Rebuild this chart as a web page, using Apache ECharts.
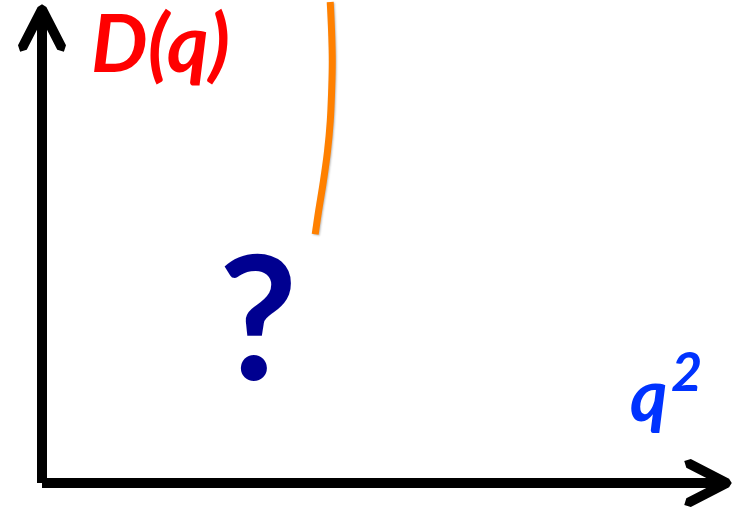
<!DOCTYPE html>
<html>
<head>
    <meta charset="UTF-8">
    <meta name="viewport" content="width=device-width, initial-scale=1.0">
    <title>D(q) vs q²</title>
    <script src="https://cdn.jsdelivr.net/npm/echarts@6.0.0/dist/echarts.min.js"></script>
    <style>
        html, body, #chart {
            width: 100%;
            height: 100%;
            margin: 0;
            padding: 0;
        }
        body {
            overflow: hidden;
            background: #fff;
        }
    </style>
</head>
<body>
    <div id="chart"></div>
    <script>
        // orange curve, axis units 0..100 (x = q², y = D(q))
        const curveX = [42.2, 42.4, 42.5, 42.4, 42.2, 41.8, 41.2, 40.5, 40.0];
        const curveY = [101.7, 95.4, 89.1, 82.7, 76.4, 70.1, 63.8, 57.5, 52.6];

        const yTitle = 'D(q)';
        const xTitle = 'q';
        const xTitleSup = '2';
        const unknownMark = '?';

        // open chevron arrow head (points up, gets rotated along the axis)
        const chevron = 'path://M25 0 L29.45 2.72 L49.45 41.7 L47.3 48.4 L40.55 46.3 L25 16 L9.45 46.3 L2.7 48.4 L0.55 41.7 L20.55 2.72 Z';

        const chart = echarts.init(document.getElementById('chart'));

        const axisLine = function (offsetEnd) {
            return {
                show: true,
                onZero: false,
                symbol: ['none', chevron],
                symbolSize: [48, 48],
                symbolOffset: [0, offsetEnd],
                lineStyle: { color: '#000', width: 10, cap: 'butt' }
            };
        };

        const option = {
            animation: false,
            backgroundColor: '#fff',
            grid: { left: 42, right: 15, top: 10, bottom: 26 },
            xAxis: {
                type: 'value',
                min: 0,
                max: 100,
                axisLine: axisLine(-17),
                axisTick: { show: false },
                axisLabel: { show: false },
                splitLine: { show: false }
            },
            yAxis: {
                type: 'value',
                min: 0,
                max: 100,
                axisLine: axisLine(-18),
                axisTick: { show: false },
                axisLabel: { show: false },
                splitLine: { show: false }
            },
            series: [
                {
                    type: 'line',
                    data: curveX.map((x, i) => [x, curveY[i]]),
                    smooth: 0.4,
                    showSymbol: false,
                    clip: false,
                    lineStyle: {
                        color: '#FF8000',
                        width: 7,
                        cap: 'butt',
                        shadowColor: 'rgba(0,0,0,0.25)',
                        shadowBlur: 2,
                        shadowOffsetX: 1,
                        shadowOffsetY: 1
                    }
                }
            ],
            graphic: [
                {
                    type: 'text',
                    x: 91, y: 6,
                    style: {
                        text: yTitle,
                        font: 'italic bold 80px Lato',
                        fill: '#FF0000',
                        textAlign: 'left',
                        textVerticalAlign: 'top'
                    }
                },
                {
                    type: 'text',
                    x: 258, y: 239,
                    style: {
                        text: unknownMark,
                        font: 'bold 172px Lato',
                        fill: '#000090',
                        textAlign: 'center',
                        textVerticalAlign: 'top'
                    }
                },
                {
                    type: 'text',
                    x: 630, y: 362,
                    style: {
                        text: xTitle,
                        font: 'italic bold 72px Lato',
                        fill: '#0033FF',
                        textAlign: 'left',
                        textVerticalAlign: 'top'
                    }
                },
                {
                    type: 'text',
                    x: 671, y: 347,
                    style: {
                        text: xTitleSup,
                        font: 'italic bold 54px Lato',
                        fill: '#0033FF',
                        textAlign: 'left',
                        textVerticalAlign: 'top'
                    }
                }
            ]
        };

        chart.setOption(option);
        window.addEventListener('resize', function () {
            chart.resize();
        });
    </script>
</body>
</html>
